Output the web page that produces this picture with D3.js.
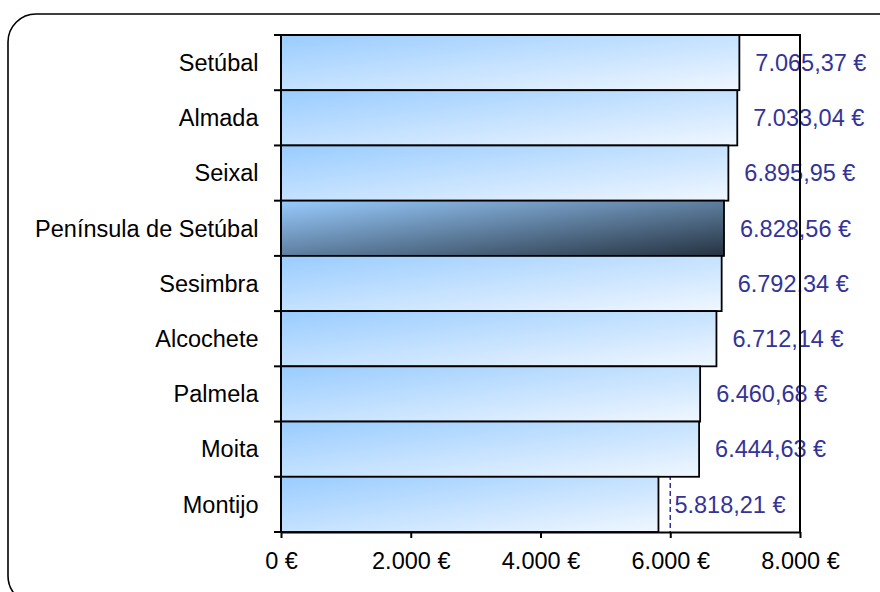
<!DOCTYPE html>
<html>
<head>
<meta charset="utf-8">
<script src="https://d3js.org/d3.v7.min.js"></script>
<style>
  body { margin: 0; background: #fff; }
  text { font-family: "Liberation Sans", Arial, sans-serif; }
</style>
</head>
<body>
<div id="chart"></div>
<script>
// chart values
var municipios = ["Setúbal", "Almada", "Seixal", "Península de Setúbal", "Sesimbra",
                  "Alcochete", "Palmela", "Moita", "Montijo"];
var valores = [7065.37, 7033.04, 6895.95, 6828.56, 6792.34, 6712.14, 6460.68, 6444.63, 5818.21];
var destaque = "Península de Setúbal";
var xTicks = [0, 2000, 4000, 6000, 8000];

var W = 880, H = 592;
var margin = {top: 35, right: 80, bottom: 60, left: 281};

var pt = d3.formatLocale({decimal: ",", thousands: ".", grouping: [3], currency: ["", " €"]});
var fmtVal = pt.format("$,.2f");
var fmtTick = pt.format("$,.0f");

var svg = d3.select("#chart").append("svg")
    .attr("width", W)
    .attr("height", H);

var defs = svg.append("defs");
var g1 = defs.append("linearGradient").attr("id", "gLight")
    .attr("x1", 0).attr("y1", 0).attr("x2", 1).attr("y2", 1);
g1.append("stop").attr("offset", "0%").attr("stop-color", "#99ccff");
g1.append("stop").attr("offset", "100%").attr("stop-color", "#f0f7ff");
var g2 = defs.append("linearGradient").attr("id", "gDark")
    .attr("x1", 0).attr("y1", 0).attr("x2", 1).attr("y2", 1);
g2.append("stop").attr("offset", "0%").attr("stop-color", "#99ccff");
g2.append("stop").attr("offset", "100%").attr("stop-color", "#253240");

// outer rounded frame
svg.append("rect")
    .attr("x", 8).attr("y", 14)
    .attr("width", 920).attr("height", 590)
    .attr("rx", 28).attr("ry", 28)
    .attr("fill", "#fff")
    .attr("stroke", "#000")
    .attr("stroke-width", 1.6);

var x = d3.scaleLinear().domain([0, 8000]).range([margin.left, 800]);
var y = d3.scaleBand().domain(municipios).range([margin.top, 532]).padding(0);

// dashed gridlines (behind bars)
svg.append("g").selectAll("line")
    .data(xTicks.slice(1, -1))
    .enter().append("line")
    .attr("x1", function(d) { return x(d); })
    .attr("x2", function(d) { return x(d); })
    .attr("y1", margin.top)
    .attr("y2", 532)
    .attr("stroke", "#333399")
    .attr("stroke-width", 1.5)
    .attr("stroke-dasharray", "5,3");

// bars
svg.append("g").selectAll("rect")
    .data(municipios)
    .enter().append("rect")
    .attr("x", x(0))
    .attr("y", function(d) { return y(d); })
    .attr("width", function(d, i) { return x(valores[i]) - x(0); })
    .attr("height", y.bandwidth())
    .attr("fill", function(d) { return d == destaque ? "url(#gDark)" : "url(#gLight)"; })
    .attr("stroke", "#000")
    .attr("stroke-width", 1.8);

// value labels
svg.append("g").selectAll("text")
    .data(municipios)
    .enter().append("text")
    .attr("x", function(d, i) { return x(valores[i]) + 16; })
    .attr("y", function(d) { return y(d) + y.bandwidth() / 2; })
    .attr("dy", "0.35em")
    .attr("fill", "#333399")
    .style("font-size", "23.5px")
    .text(function(d, i) { return fmtVal(valores[i]); });

// plot border top/right
svg.append("path")
    .attr("d", "M" + x(0) + "," + margin.top + "H" + x(8000) + "V532")
    .attr("fill", "none")
    .attr("stroke", "#000")
    .attr("stroke-width", 2);

// left axis with ticks at band boundaries
var yAxis = svg.append("g");
yAxis.append("line")
    .attr("x1", x(0)).attr("x2", x(0))
    .attr("y1", margin.top).attr("y2", 532)
    .attr("stroke", "#000").attr("stroke-width", 2);
var bounds = municipios.map(function(d) { return y(d); }).concat([532]);
yAxis.selectAll("line.tk")
    .data(bounds)
    .enter().append("line")
    .attr("class", "tk")
    .attr("x1", x(0) - 7).attr("x2", x(0))
    .attr("y1", function(d) { return d; })
    .attr("y2", function(d) { return d; })
    .attr("stroke", "#000").attr("stroke-width", 2);
yAxis.selectAll("text")
    .data(municipios)
    .enter().append("text")
    .attr("x", x(0) - 22.5)
    .attr("y", function(d) { return y(d) + y.bandwidth() / 2; })
    .attr("dy", "0.35em")
    .attr("text-anchor", "end")
    .attr("fill", "#000")
    .style("font-size", "23.5px")
    .text(function(d) { return d; });

// bottom axis
var xAxis = svg.append("g")
    .attr("transform", "translate(0,532)")
    .call(d3.axisBottom(x).tickValues(xTicks).tickFormat(fmtTick)
        .tickSize(6).tickSizeOuter(0).tickPadding(14));
xAxis.select(".domain").attr("stroke", "#000").attr("stroke-width", 2);
xAxis.selectAll(".tick line").attr("stroke", "#000").attr("stroke-width", 2);
xAxis.selectAll(".tick text")
    .attr("fill", "#000")
    .style("font-size", "23.5px")
    .style("font-family", "'Liberation Sans', Arial, sans-serif");
</script>
</body>
</html>
